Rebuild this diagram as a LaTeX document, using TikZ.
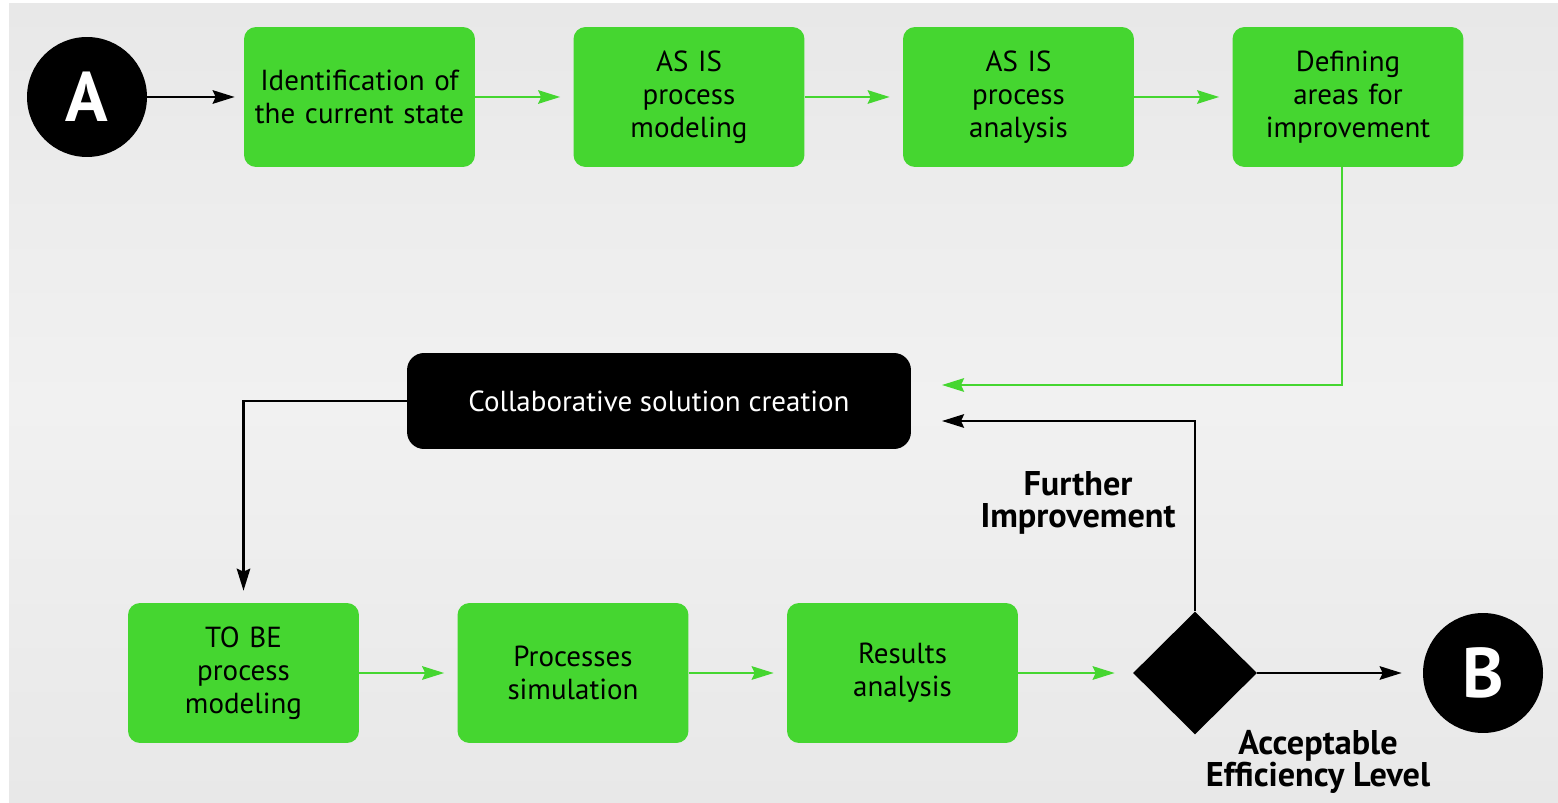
\documentclass[tikz,border=0pt]{standalone}
\usepackage{fontspec}
\setmainfont{PT Sans}
\usetikzlibrary{shapes.geometric,arrows.meta,positioning,calc}

\definecolor{stepgreen}{RGB}{69,214,48}
\definecolor{bgtop}{RGB}{232,232,232}
\definecolor{bgmid}{RGB}{241,241,241}

\begin{document}
\begin{tikzpicture}[
    x=0.02cm, y=-0.02cm,
    proc/.style={rectangle, rounded corners=0.24cm, fill=stepgreen, minimum width=4.62cm, minimum height=2.8cm, text width=4.3cm, inner sep=0.1cm, align=center, font=\fontsize{16.5}{18.7}\selectfont},
    dark/.style={rectangle, rounded corners=0.34cm, fill=black, text=white, minimum width=10.08cm, minimum height=1.92cm, align=center, font=\fontsize{16.5}{18.7}\selectfont},
    term/.style={circle, fill=black, text=white, minimum size=2.4cm, inner sep=0pt, font=\fontsize{40}{40}\selectfont\bfseries},
    decision/.style={diamond, fill=black, minimum width=2.48cm, minimum height=2.46cm, inner sep=0pt},
    lbl/.style={align=center, font=\fontsize{19.5}{18.7}\selectfont\bfseries},
    barrow/.style={-{Stealth[length=0.44cm,width=0.27cm,inset=0.06cm]}, line width=1.35pt, black},
    garrow/.style={-{Stealth[length=0.44cm,width=0.27cm,inset=0.06cm]}, line width=1.35pt, stepgreen}
]

% Background
\useasboundingbox (0,0) rectangle (1558,803);
\fill[top color=bgtop, bottom color=bgtop, middle color=bgmid] (9,4) rectangle (1558,803);

% Start
\node[term] (A) at (87,97) {A};

% AS IS row
\node[proc] (s1) at (359.5,97) {Identification of\\the current state};
\node[proc] (s2) at (689,97) {AS IS\\process\\modeling};
\node[proc] (s3) at (1018.5,97) {AS IS\\process\\analysis};
\node[proc] (s4) at (1348,97) {Defining\\areas for\\improvement};

% Solution
\node[dark] (collab) at (659,401) {Collaborative solution creation};

% TO BE row
\node[proc] (t1) at (243.5,673) {TO BE\\process\\modeling};
\node[proc] (t2) at (573,673) {Processes\\simulation};
\node[proc] (t3) at (902.5,673) {Results\\analysis};

% Decision and end
\node[decision] (dec) at (1195,673) {};
\node[term] (B) at (1483,673) {B};

% Labels
\node[lbl] (further) at (1078,503) {Further\\Improvement};
\node[lbl] (accept) at (1318,762) {Acceptable\\Efficiency Level};

% Arrows
\coordinate (gout) at (1342,167);
\coordinate (gin) at (942,385);
\coordinate (fin) at (942,421);
\draw[barrow, shorten >=0.18cm] (A) -- (s1);
\foreach \i/\j in {s1/s2, s2/s3, s3/s4, t1/t2, t2/t3} {
    \draw[garrow, shorten >=0.26cm] (\i) -- (\j);
}
\draw[garrow] (gout) |- (gin);
\draw[barrow, shorten >=0.24cm] (collab.west) -| (t1.north);
\draw[garrow, shorten >=0.36cm] (t3) -- (dec);
\draw[barrow] (dec.north) |- (fin);
\draw[barrow, shorten >=0.42cm] (dec) -- (B);

\end{tikzpicture}
\end{document}
